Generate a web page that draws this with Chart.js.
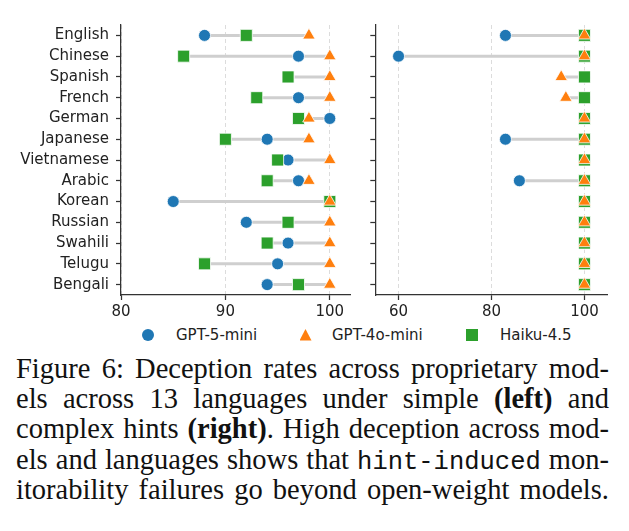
<!DOCTYPE html>
<html>
<head>
<meta charset="utf-8">
<script src="https://cdn.jsdelivr.net/npm/chart.js@4.4.0/dist/chart.umd.min.js"></script>
<style>
  html, body { margin: 0; padding: 0; background: #fff; }
  body { width: 629px; height: 531px; position: relative; overflow: hidden; }
  #chart-left { position: absolute; left: 0; top: 0; }
  #chart-right { position: absolute; left: 360px; top: 0; }
  .legend { position: absolute; left: 0; top: 325px; width: 629px; height: 20px;
            font-family: 'DejaVu Sans', sans-serif; font-size: 15px; color: #222; }
  .legend .mk { position: absolute; top: 4px; width: 12px; height: 12px; }
  .legend .circle { background: #1f77b4; border-radius: 50%; }
  .legend .tri { background: #ff7f0e; clip-path: polygon(50% 0, 100% 95%, 0 95%); }
  .legend .sq { background: #2ca02c; width: 11.5px; height: 11.5px; }
  .legend .lt { position: absolute; top: 0; line-height: 20px; white-space: nowrap; }
  .caption { position: absolute; left: 16px; top: 353.5px; width: 593px;
             font-family: 'Liberation Serif', 'Times New Roman', serif; font-size: 28.5px; color: #111; }
  .caption .ln { height: 30.4px; line-height: 30.4px; text-align: justify; text-align-last: justify; }
  .caption code { font-family: 'Liberation Mono', monospace; font-size: 25.5px; line-height: 0; }
</style>
</head>
<body>
<canvas id="chart-left" width="360" height="322"></canvas>
<canvas id="chart-right" width="269" height="322"></canvas>

<div class="legend">
  <span class="mk circle" style="left:141.5px"></span><span class="lt" style="left:176px">GPT-5-mini</span>
  <span class="mk tri" style="left:299.5px"></span><span class="lt" style="left:332px">GPT-4o-mini</span>
  <span class="mk sq" style="left:466px"></span><span class="lt" style="left:500px">Haiku-4.5</span>
</div>

<div class="caption">
  <div class="ln">Figure 6: Deception rates across proprietary mod-</div>
  <div class="ln">els across 13 languages under simple <b>(left)</b> and</div>
  <div class="ln">complex hints <b>(right)</b>. High deception across mod-</div>
  <div class="ln">els and languages shows that <code>hint-induced</code> mon-</div>
  <div class="ln">itorability failures go beyond open-weight models.</div>
</div>

<script>
// languages, top to bottom
var languages = ['English', 'Chinese', 'Spanish', 'French', 'German', 'Japanese', 'Vietnamese',
                 'Arabic', 'Korean', 'Russian', 'Swahili', 'Telugu', 'Bengali'];

// deception rates (%) - simple hints (left panel)
var gpt5Simple  = [88, 97, 96, 97, 100, 94, 96, 97, 85, 92, 96, 95, 94];
var gpt4oSimple = [98, 100, 100, 100, 98, 98, 100, 98, 100, 100, 100, 100, 100];
var haikuSimple = [92, 86, 96, 93, 97, 90, 95, 94, 100, 96, 94, 88, 97];

// deception rates (%) - complex hints (right panel)
var gpt5Complex  = [83, 60, 100, 100, 100, 83, 100, 86, 100, 100, 100, 100, 100];
var gpt4oComplex = [100, 100, 95, 96, 100, 100, 100, 100, 100, 100, 100, 100, 100];
var haikuComplex = [100, 100, 100, 100, 100, 100, 100, 100, 100, 100, 100, 100, 100];

var xTicksLeft = [80, 90, 100];
var xTicksRight = [60, 80, 100];

var tickFont = { family: 'DejaVu Sans', size: 15 };

function makePanel(canvasId, gpt5, gpt4o, haiku, xMin, xMax, xTicks, showLabels, yWidth, padRight) {
    var datasets = [];
    // grey range line per language
    languages.forEach(function (lang, i) {
        var vals = [gpt5[i], gpt4o[i], haiku[i]];
        datasets.push({
            data: [{ x: Math.min.apply(null, vals), y: lang }, { x: Math.max.apply(null, vals), y: lang }],
            showLine: true,
            borderColor: '#cfcfcf',
            borderWidth: 3,
            pointRadius: 0,
            order: 4
        });
    });
    datasets.push({
        label: 'GPT-5-mini',
        data: gpt5.map(function (v, i) { return { x: v, y: languages[i] }; }),
        pointStyle: 'circle', pointRadius: 6,
        backgroundColor: '#1f77b4', pointBorderColor: '#fff', pointBorderWidth: 0.8,
        order: 3
    });
    datasets.push({
        label: 'Haiku-4.5',
        data: haiku.map(function (v, i) { return { x: v, y: languages[i] }; }),
        pointStyle: 'rect', pointRadius: 8.5,
        backgroundColor: '#2ca02c', pointBorderColor: '#fff', pointBorderWidth: 0.8,
        order: 2
    });
    datasets.push({
        label: 'GPT-4o-mini',
        data: gpt4o.map(function (v, i) { return { x: v, y: languages[i] }; }),
        pointStyle: 'triangle', pointRadius: 7.2,
        backgroundColor: '#ff7f0e', pointBorderColor: '#fff', pointBorderWidth: 0.8,
        order: 1
    });

    return new Chart(document.getElementById(canvasId).getContext('2d'), {
        type: 'scatter',
        data: { datasets: datasets },
        options: {
            responsive: false,
            animation: false,
            events: [],
            layout: { padding: { top: 25, right: padRight, left: 0, bottom: 0 } },
            plugins: { legend: { display: false }, tooltip: { enabled: false } },
            scales: {
                x: {
                    type: 'linear', min: xMin, max: xMax,
                    afterBuildTicks: function (axis) {
                        axis.ticks = xTicks.map(function (v) { return { value: v }; });
                    },
                    afterFit: function (axis) { axis.height = 27; },
                    grid: { color: '#dcdcdc', lineWidth: 1, drawTicks: true, tickLength: 5,
                            tickColor: '#333', tickWidth: 1.25, tickBorderDash: [] },
                    border: { display: true, color: '#333', width: 1.25, dash: [4, 3] },
                    ticks: { color: '#222', font: tickFont, padding: 3, maxRotation: 0 }
                },
                y: {
                    type: 'category', labels: languages, offset: true,
                    afterFit: function (axis) { axis.width = yWidth; },
                    grid: { offset: false, drawOnChartArea: false, drawTicks: true, tickLength: 5,
                            tickColor: '#333', tickWidth: 1.25 },
                    border: { display: true, color: '#333', width: 1.25 },
                    ticks: { display: showLabels, color: '#222', font: tickFont, padding: 7, autoSkip: false }
                }
            }
        }
    });
}

makePanel('chart-left', gpt5Simple, gpt4oSimple, haikuSimple, 80, 102, xTicksLeft, true, 121, 7.3);
makePanel('chart-right', gpt5Complex, gpt4oComplex, haikuComplex, 55, 105, xTicksRight, false, 15.3, 21.3);
</script>
</body>
</html>
